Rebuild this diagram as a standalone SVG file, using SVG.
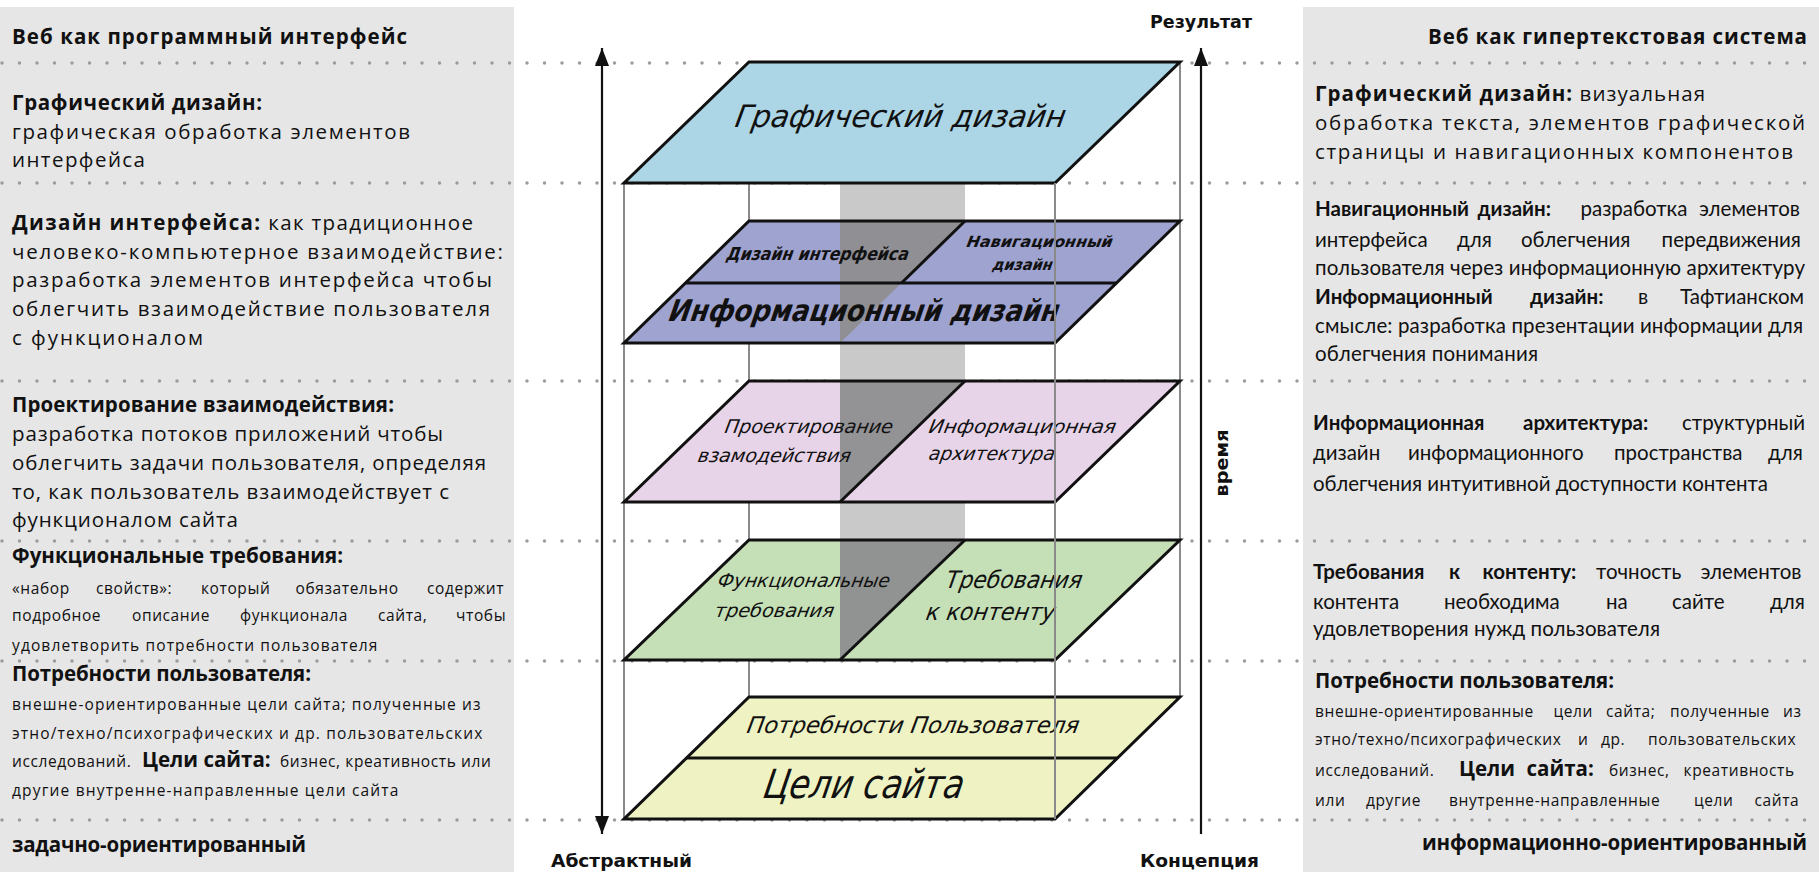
<svg xmlns="http://www.w3.org/2000/svg" width="1819" height="872" viewBox="0 0 1819 872">
<defs>
<marker id="ah" viewBox="0 0 18 14" refX="18" refY="7" markerWidth="18" markerHeight="14" markerUnits="userSpaceOnUse" orient="auto-start-reverse">
<path d="M0,0 L18,7 L0,14 z" fill="#111"/>
</marker>
</defs>
<style>
.panel{fill:#e6e6e6}
.dot{stroke:#9c9c9c;stroke-width:3.5;stroke-linecap:round;stroke-dasharray:0 17.5;fill:none}
.vl{stroke:#8a8a8a;stroke-width:2;fill:none}
.ar{stroke:#111;stroke-width:2.2;fill:none}
.pl{stroke:#111;stroke-width:3;stroke-linejoin:miter}
.sep{stroke:#111;stroke-width:3;fill:none}
.dark{fill:#8e8e90;opacity:0.95}
.t{font-family:"Open Sans","DejaVu Sans",sans-serif;font-size:20.5px;fill:#111}
.c{font-family:Lato,"Open Sans","DejaVu Sans",sans-serif;font-size:20.5px;fill:#111}
.s{font-size:15.5px;letter-spacing:0.6px}
.b{font-weight:bold}
.lab{font-family:"DejaVu Sans Condensed","DejaVu Sans",sans-serif;font-weight:bold;font-size:18px;fill:#111}
.pt{font-family:"DejaVu Sans Condensed","DejaVu Sans",sans-serif;font-style:italic;fill:#111}
.pb{font-weight:bold}
</style>

<g id="panels">
<rect class="panel" x="0" y="7" width="514" height="865"/>
<rect class="panel" x="1303" y="7" width="516" height="865"/>
</g>

<g id="dotted-lines">
<line class="dot" x1="2" y1="63" x2="1819" y2="63"/>
<line class="dot" x1="2" y1="183" x2="1819" y2="183"/>
<line class="dot" x1="2" y1="381" x2="1819" y2="381"/>
<line class="dot" x1="2" y1="541" x2="1819" y2="541"/>
<line class="dot" x1="2" y1="661" x2="1819" y2="661"/>
<line class="dot" x1="2" y1="820" x2="1819" y2="820"/>
</g>

<g id="connectors">
<rect x="840" y="184" width="125" height="476" fill="#c9c9c9"/>
<line class="vl" x1="624" y1="183" x2="624" y2="819"/>
<line class="vl" x1="749" y1="183" x2="749" y2="697"/>
<line class="vl" x1="1180" y1="62" x2="1180" y2="697"/>
<line class="ar" x1="602" y1="48" x2="602" y2="834" marker-start="url(#ah)" marker-end="url(#ah)"/>
<line class="ar" x1="1201" y1="48" x2="1201" y2="834" marker-start="url(#ah)"/>
</g>

<g id="plane-graphic">
<polygon class="pl" points="749,62 1180,62 1055,183 624,183" fill="#acd6e6"/>
<text class="pt" transform="translate(734,127) skewX(-10)" font-size="31" textLength="330" lengthAdjust="spacingAndGlyphs">Графический дизайн</text>
</g>

<g id="plane-interface">
<polygon points="749,221 1180,221 1055,343 624,343" fill="#9fa3d0"/>
<polygon class="dark" points="840,221 965,221 840,343"/>
<polygon class="pl" points="749,221 1180,221 1055,343 624,343" fill="none"/>
<line class="sep" x1="685.5" y1="283" x2="1116.5" y2="283"/>
<line class="sep" x1="965" y1="221" x2="901.5" y2="283"/>
<text class="pt pb" transform="translate(726,260) skewX(-10)" font-size="18" textLength="182" lengthAdjust="spacingAndGlyphs">Дизайн интерфейса</text>
<text class="pt pb" transform="translate(966,247) skewX(-10)" font-size="15.5" textLength="146" lengthAdjust="spacingAndGlyphs">Навигационный</text>
<text class="pt pb" transform="translate(992,270) skewX(-10)" font-size="15.5" textLength="60" lengthAdjust="spacingAndGlyphs">дизайн</text>
<text class="pt pb" transform="translate(668,321) skewX(-10)" font-size="30" textLength="390" lengthAdjust="spacingAndGlyphs">Информационный дизайн</text>
</g>

<g id="plane-interaction">
<polygon points="749,381 1180,381 1055,502 624,502" fill="#e8d4e8"/>
<polygon class="dark" points="840,381 965,381 840,502"/>
<polygon class="pl" points="749,381 1180,381 1055,502 624,502" fill="none"/>
<line class="sep" x1="965" y1="381" x2="840" y2="502"/>
<text class="pt" transform="translate(724,433) skewX(-10)" font-size="19" textLength="168" lengthAdjust="spacingAndGlyphs">Проектирование</text>
<text class="pt" transform="translate(697,462) skewX(-10)" font-size="19" textLength="153" lengthAdjust="spacingAndGlyphs">взамодействия</text>
<text class="pt" transform="translate(928,433) skewX(-10)" font-size="19" textLength="187" lengthAdjust="spacingAndGlyphs">Информационная</text>
<text class="pt" transform="translate(928,460) skewX(-10)" font-size="19" textLength="126" lengthAdjust="spacingAndGlyphs">архитектура</text>
</g>

<g id="plane-requirements">
<polygon points="749,540 1180,540 1055,660 624,660" fill="#c5e0b6"/>
<polygon class="dark" points="840,540 965,540 840,660"/>
<polygon class="pl" points="749,540 1180,540 1055,660 624,660" fill="none"/>
<line class="sep" x1="965" y1="540" x2="840" y2="660"/>
<text class="pt" transform="translate(717,587) skewX(-10)" font-size="19" textLength="172" lengthAdjust="spacingAndGlyphs">Функциональные</text>
<text class="pt" transform="translate(714,617) skewX(-10)" font-size="19" textLength="119" lengthAdjust="spacingAndGlyphs">требования</text>
<text class="pt" transform="translate(945,588) skewX(-10)" font-size="24" textLength="136" lengthAdjust="spacingAndGlyphs">Требования</text>
<text class="pt" transform="translate(925,620) skewX(-10)" font-size="24" textLength="129" lengthAdjust="spacingAndGlyphs">к контенту</text>
</g>

<g id="plane-needs">
<polygon class="pl" points="749,697 1180,697 1055,819 624,819" fill="#eff3c3"/>
<line class="sep" x1="686.5" y1="758" x2="1117.5" y2="758"/>
<text class="pt" transform="translate(746,733) skewX(-10)" font-size="23" textLength="332" lengthAdjust="spacingAndGlyphs">Потребности Пользователя</text>
<text class="pt" transform="translate(762,798) skewX(-10)" font-size="40" textLength="200" lengthAdjust="spacingAndGlyphs">Цели сайта</text>
</g>

<g id="front-edge">
<line class="vl" x1="1055" y1="183" x2="1055" y2="819"/>
</g>

<g id="axis-labels">
<text class="lab" x="1150" y="28" textLength="102" lengthAdjust="spacingAndGlyphs">Результат</text>
<text class="lab" x="551" y="867" textLength="141" lengthAdjust="spacingAndGlyphs">Абстрактный</text>
<text class="lab" x="1140" y="867" textLength="119" lengthAdjust="spacingAndGlyphs">Концепция</text>
<text class="lab" transform="translate(1228,463) rotate(-90)" text-anchor="middle" textLength="67" lengthAdjust="spacingAndGlyphs">время</text>
</g>

<g id="left-panel-text" class="t">
<text class="b" x="12" y="44" textLength="395" lengthAdjust="spacing">Веб как программный интерфейс</text>
<text class="b" x="12" y="110" textLength="250" lengthAdjust="spacing">Графический дизайн:</text>
<text x="12" y="138.5" textLength="398" lengthAdjust="spacing">графическая обработка элементов</text>
<text x="12" y="167" textLength="133" lengthAdjust="spacing">интерфейса</text>
<text x="12" y="230" textLength="461" lengthAdjust="spacing"><tspan class="b">Дизайн интерфейса:</tspan> как традиционное</text>
<text x="12" y="258.5" textLength="491" lengthAdjust="spacing">человеко-компьютерное взаимодействие:</text>
<text x="12" y="287" textLength="480" lengthAdjust="spacing">разработка элементов интерфейса чтобы</text>
<text x="12" y="316" textLength="478" lengthAdjust="spacing">облегчить взаимодействие пользователя</text>
<text x="12" y="345" textLength="191" lengthAdjust="spacing">с функционалом</text>
<text class="b" x="12" y="412" textLength="382" lengthAdjust="spacing">Проектирование взаимодействия:</text>
<text x="12" y="440.6" textLength="431" lengthAdjust="spacing">разработка потоков приложений чтобы</text>
<text x="12" y="469.7" textLength="474" lengthAdjust="spacing">облегчить задачи пользователя, определяя</text>
<text x="12" y="498.5" textLength="437" lengthAdjust="spacing">то, как пользователь взаимодействует с</text>
<text x="12" y="527" textLength="226" lengthAdjust="spacing">функционалом сайта</text>
<text class="b" x="12" y="563" textLength="331" lengthAdjust="spacing">Функциональные требования:</text>
<text class="s" y="594"><tspan x="12">«набор</tspan><tspan x="96">свойств»:</tspan><tspan x="201">который</tspan><tspan x="295.6">обязательно</tspan><tspan x="427">содержит</tspan></text>
<text class="s" y="621"><tspan x="12">подробное</tspan><tspan x="132">описание</tspan><tspan x="240">функционала</tspan><tspan x="378">сайта,</tspan><tspan x="456">чтобы</tspan></text>
<text class="s" x="12" y="651" textLength="366" lengthAdjust="spacing">удовлетворить потребности пользователя</text>
<text class="b" x="12" y="681" textLength="299" lengthAdjust="spacing">Потребности пользователя:</text>
<text class="s" x="12" y="710" textLength="469" lengthAdjust="spacing">внешне-ориентированные цели сайта; полученные из</text>
<text class="s" x="12" y="738.5" textLength="471" lengthAdjust="spacing">этно/техно/психографических и др. пользовательских</text>
<text y="767"><tspan class="s" x="12">исследований.</tspan><tspan class="b" x="142">Цели сайта:</tspan><tspan class="s" x="280">бизнес, креативность или</tspan></text>
<text class="s" x="12" y="796" textLength="387" lengthAdjust="spacing">другие внутренне-направленные цели сайта</text>
<text class="b" x="12" y="852" textLength="294" lengthAdjust="spacing">задачно-ориентированный</text>
</g>

<g id="right-panel-text">
<text class="t b" x="1807" y="44" text-anchor="end" textLength="379" lengthAdjust="spacing">Веб как гипертекстовая система</text>
<text class="t" x="1315" y="101" textLength="390" lengthAdjust="spacing"><tspan class="b">Графический дизайн:</tspan> визуальная</text>
<text class="t" x="1315" y="130" textLength="490" lengthAdjust="spacing">обработка текста, элементов графической</text>
<text class="t" x="1315" y="159" textLength="478" lengthAdjust="spacing">страницы и навигационных компонентов</text>
<text class="c" y="216"><tspan class="b" x="1315">Навигационный</tspan><tspan class="b" x="1477.5">дизайн:</tspan><tspan x="1580.5">разработка</tspan><tspan x="1699">элементов</tspan></text>
<text class="c" y="246.6"><tspan x="1315">интерфейса</tspan><tspan x="1457">для</tspan><tspan x="1521">облегчения</tspan><tspan x="1661.6">передвижения</tspan></text>
<text class="c" x="1315" y="275" textLength="490" lengthAdjust="spacing">пользователя через информационную архитектуру</text>
<text class="c" y="304"><tspan class="b" x="1315">Информационный</tspan><tspan class="b" x="1530">дизайн:</tspan><tspan x="1638">в</tspan><tspan x="1680">Тафтианском</tspan></text>
<text class="c" x="1315" y="332.5" textLength="488" lengthAdjust="spacing">смысле: разработка презентации информации для</text>
<text class="c" x="1315" y="360.5" textLength="223" lengthAdjust="spacing">облегчения понимания</text>
<text class="c" y="430"><tspan class="b" x="1313">Информационная</tspan><tspan class="b" x="1523">архитектура:</tspan><tspan x="1682">структурный</tspan></text>
<text class="c" y="460"><tspan x="1313">дизайн</tspan><tspan x="1408">информационного</tspan><tspan x="1614">пространства</tspan><tspan x="1768">для</tspan></text>
<text class="c" x="1313" y="490.6" textLength="455" lengthAdjust="spacing">облегчения интуитивной доступности контента</text>
<text class="c" y="578.5"><tspan class="b" x="1313">Требования</tspan><tspan class="b" x="1449">к</tspan><tspan class="b" x="1482.6">контенту:</tspan><tspan x="1596">точность</tspan><tspan x="1700.5">элементов</tspan></text>
<text class="c" y="609"><tspan x="1313">контента</tspan><tspan x="1444">необходима</tspan><tspan x="1606">на</tspan><tspan x="1672">сайте</tspan><tspan x="1770">для</tspan></text>
<text class="c" x="1313" y="636" textLength="347" lengthAdjust="spacing">удовлетворения нужд пользователя</text>
<text class="t b" x="1315" y="688" textLength="299" lengthAdjust="spacing">Потребности пользователя:</text>
<text class="t s" y="716.5"><tspan x="1315">внешне-ориентированные</tspan><tspan x="1553.5">цели</tspan><tspan x="1606">сайта;</tspan><tspan x="1670">полученные</tspan><tspan x="1783">из</tspan></text>
<text class="t s" y="745"><tspan x="1315">этно/техно/психографических</tspan><tspan x="1578">и</tspan><tspan x="1601">др.</tspan><tspan x="1648">пользовательских</tspan></text>
<text class="t" y="776"><tspan class="s" x="1315">исследований.</tspan><tspan class="b" x="1459">Цели</tspan><tspan class="b" x="1526.5">сайта:</tspan><tspan class="s" x="1609">бизнес,</tspan><tspan class="s" x="1683.6">креативность</tspan></text>
<text class="t s" y="806"><tspan x="1315">или</tspan><tspan x="1366">другие</tspan><tspan x="1449">внутренне-направленные</tspan><tspan x="1694">цели</tspan><tspan x="1754.5">сайта</tspan></text>
<text class="t b" x="1807" y="850" text-anchor="end" textLength="385" lengthAdjust="spacing">информационно-ориентированный</text>
</g>
</svg>
